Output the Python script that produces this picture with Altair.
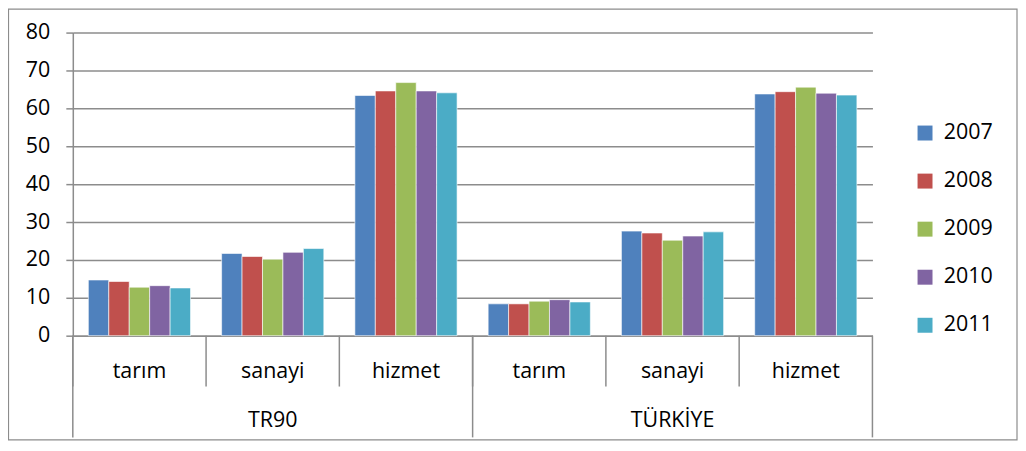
import altair as alt
import pandas as pd

years = ["2007", "2008", "2009", "2010", "2011"]
regions = ["TR90", "TÜRKİYE"]
sectors = ["tarım", "sanayi", "hizmet"]
colors = ["#4F81BD", "#C0504D", "#9BBB59", "#8064A2", "#4BACC6"]

# values per year, order: TR90 tarım, sanayi, hizmet, TÜRKİYE tarım, sanayi, hizmet
v2007 = [14.7, 21.7, 63.4, 8.4, 27.6, 63.8]
v2008 = [14.3, 20.9, 64.6, 8.4, 27.1, 64.4]
v2009 = [12.8, 20.2, 66.8, 9.1, 25.2, 65.6]
v2010 = [13.2, 22.0, 64.6, 9.5, 26.3, 64.0]
v2011 = [12.6, 23.0, 64.1, 8.9, 27.4, 63.5]
series = [v2007, v2008, v2009, v2010, v2011]

cats = [f"{r}|{s}" for r in regions for s in sectors]

rows = []
for y, vals in zip(years, series):
    for c, v in zip(cats, vals):
        rows.append({"cat": c, "year": y, "value": v})
df = pd.DataFrame(rows)

W, H = 802, 304
FONT = "Open Sans"
FS = 21.5
GRAY = "#8c8c8c"

xscale = alt.Scale(domain=cats, paddingInner=0, paddingOuter=0)

bars = alt.Chart(df).mark_bar(stroke="white", strokeWidth=0.6).encode(
    x=alt.X("cat:N", scale=xscale, sort=cats,
            axis=alt.Axis(title=None, ticks=False, labelAngle=0,
                          labelExpr="split(datum.label, '|')[1]",
                          labelBaseline="middle", labelPadding=36,
                          labelFontSize=FS, labelFont=FONT, labelColor="black",
                          domainColor=GRAY, domainWidth=1.5, grid=False)),
    xOffset=alt.XOffset("year:N", scale=alt.Scale(paddingInner=0, paddingOuter=0.76)),
    y=alt.Y("value:Q", scale=alt.Scale(domain=[0, 80]),
            axis=alt.Axis(title=None, values=list(range(0, 81, 10)),
                          tickSize=7, tickColor=GRAY, tickWidth=1.5,
                          labelPadding=16, labelFontSize=FS, labelFont=FONT,
                          labelColor="black", domainColor=GRAY, domainWidth=1.5,
                          gridColor=GRAY, gridWidth=1.5)),
    color=alt.Color("year:N", scale=alt.Scale(domain=years, range=colors),
                    legend=alt.Legend(title=None, orient="none", legendX=844, legendY=90,
                                      symbolType="square", symbolSize=225,
                                      symbolStrokeWidth=0, labelFontSize=FS,
                                      labelFont=FONT, labelColor="black",
                                      rowPadding=25.2, labelOffset=8)),
)

sep_df = pd.DataFrame({"cat": cats})
small_sep = alt.Chart(sep_df).mark_rule(color=GRAY, strokeWidth=1.5).encode(
    x=alt.X("cat:N", sort=cats, bandPosition=0),
    y=alt.value(H), y2=alt.value(H + 51),
)

grp_df = pd.DataFrame({"cat": [cats[0], cats[3]]})
grp_sep = alt.Chart(grp_df).mark_rule(color=GRAY, strokeWidth=1.5).encode(
    x=alt.X("cat:N", sort=cats, bandPosition=0),
    y=alt.value(H), y2=alt.value(H + 102),
)
end_df = pd.DataFrame({"cat": [cats[-1]]})
end_sep = alt.Chart(end_df).mark_rule(color=GRAY, strokeWidth=1.5).encode(
    x=alt.X("cat:N", sort=cats, bandPosition=1),
    y=alt.value(H), y2=alt.value(H + 102),
)

lbl_df = pd.DataFrame({"cat": [cats[1], cats[4]], "label": regions})
grp_lbl = alt.Chart(lbl_df).mark_text(fontSize=FS, font=FONT, color="black",
                                      baseline="middle").encode(
    x=alt.X("cat:N", sort=cats),
    y=alt.value(H + 86),
    text="label:N",
)

frame = alt.Chart(pd.DataFrame({"a": [0]})).mark_rect(
    fillOpacity=0, stroke=GRAY, strokeWidth=1.2).encode(
    x=alt.value(-64.5), x2=alt.value(947), y=alt.value(-23.5), y2=alt.value(408.5),
)

chart = alt.layer(bars, small_sep, grp_sep, end_sep, grp_lbl, frame).properties(
    width=W, height=H,
    autosize=alt.AutoSizeParams(type="none"),
    padding={"left": 65, "top": 24, "right": 146, "bottom": 113},
).configure_view(strokeWidth=0)

chart.save("out.html", embed_options={"renderer": "svg", "actions": False})
